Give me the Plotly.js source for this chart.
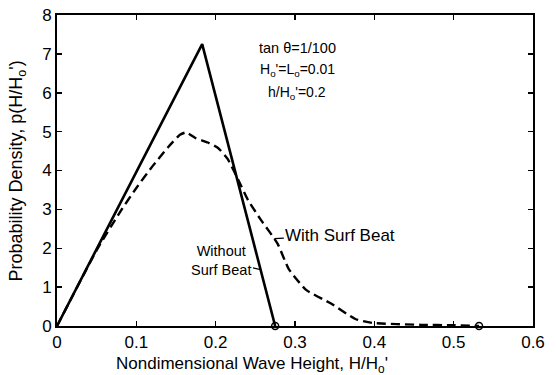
<!DOCTYPE html>
<html>
<head>
<meta charset="utf-8">
<script src="https://cdn.plot.ly/plotly-3.0.1.min.js"></script>
<style>
  html, body { margin: 0; padding: 0; background: #fff; }
  #chart { width: 556px; height: 375px; }
</style>
</head>
<body>
<div id="chart"></div>
<script>
// Wave height distribution without surf beat (triangular)
const noSurfX = [0, 0.183, 0.275];
const noSurfY = [0, 7.25, 0];

// Wave height distribution with surf beat
const surfX = [0, 0.05, 0.08, 0.10, 0.12, 0.14, 0.155, 0.163, 0.175, 0.19, 0.203, 0.215,
               0.228, 0.241, 0.257, 0.278, 0.292, 0.314, 0.346, 0.376, 0.397, 0.459, 0.500, 0.532];
const surfY = [0, 1.95, 2.95, 3.55, 4.10, 4.60, 4.92, 4.98, 4.83, 4.72, 4.58, 4.30,
               3.78, 3.23, 2.73, 2.12, 1.47, 0.93, 0.57, 0.18, 0.08, 0.03, 0.02, 0];

// Open-circle end points of the two distributions
const endX = [0.275, 0.532];
const endY = [0, 0];

const xTicks = [0, 0.1, 0.2, 0.3, 0.4, 0.5, 0.6];
const xTickText = ['0', '0.1', '0.2', '0.3', '0.4', '0.5', '0.6'];
const yTicks = [0, 1, 2, 3, 4, 5, 6, 7, 8];

const fontFam = 'Liberation Sans, Arial, sans-serif';

const traces = [
  {
    x: noSurfX, y: noSurfY, type: 'scatter', mode: 'lines',
    line: { color: '#000', width: 2.6 }, hoverinfo: 'skip'
  },
  {
    x: surfX, y: surfY, type: 'scatter', mode: 'lines',
    line: { color: '#000', width: 2.4, dash: '9px,5px', shape: 'spline', smoothing: 0.5 },
    hoverinfo: 'skip'
  },
  {
    x: endX, y: endY, type: 'scatter', mode: 'markers',
    marker: { symbol: 'circle-open', size: 7, color: '#000', line: { width: 1.5 } },
    hoverinfo: 'skip', cliponaxis: false
  }
];

const layout = {
  width: 556, height: 375,
  margin: { l: 57, r: 23, t: 15, b: 49 },
  paper_bgcolor: '#fff', plot_bgcolor: '#fff',
  showlegend: false,
  font: { family: fontFam, color: '#000', size: 16 },
  xaxis: {
    range: [0, 0.6], tickvals: xTicks, ticktext: xTickText,
    ticks: 'inside', ticklen: 5, tickwidth: 1.5, tickcolor: '#000',
    showline: true, linecolor: '#000', linewidth: 2, mirror: 'ticks',
    showgrid: false, zeroline: false,
    tickfont: { size: 17, family: fontFam }
  },
  yaxis: {
    range: [0, 8], tickvals: yTicks,
    ticks: 'inside', ticklen: 5, tickwidth: 1.5, tickcolor: '#000',
    showline: true, linecolor: '#000', linewidth: 2, mirror: 'ticks',
    showgrid: false, zeroline: false,
    tickfont: { size: 17, family: fontFam }
  },
  annotations: [
    // axis titles
    { xref: 'paper', yref: 'paper', x: 0.41, y: -0.124, xanchor: 'center', yanchor: 'middle',
      showarrow: false, text: "Nondimensional Wave Height, H/H<sub>o</sub>'", font: { size: 17 } },
    { xref: 'paper', yref: 'paper', x: -0.082, y: 0.5, xanchor: 'center', yanchor: 'middle',
      textangle: -90, showarrow: false, text: "Probability Density, p(H/H<sub>o</sub>')", font: { size: 18 } },
    // parameter block
    { xref: 'paper', yref: 'paper', x: 0.505, y: 0.895, xanchor: 'center', yanchor: 'middle', showarrow: false,
      text: 'tan θ=1/100', font: { size: 14.5 } },
    { xref: 'paper', yref: 'paper', x: 0.505, y: 0.824, xanchor: 'center', yanchor: 'middle', showarrow: false,
      text: "H<sub>o</sub>'=L<sub>o</sub>=0.01", font: { size: 14 } },
    { xref: 'paper', yref: 'paper', x: 0.505, y: 0.75, xanchor: 'center', yanchor: 'middle', showarrow: false,
      text: "h/H<sub>o</sub>'=0.2", font: { size: 14 } },
    // curve labels with leader lines
    { x: 0.274, y: 2.25, ax: 66, ay: -3, showarrow: true, arrowhead: 0, arrowwidth: 1.3,
      arrowcolor: '#000', text: 'With Surf Beat', font: { size: 17 } },
    { x: 0.2565, y: 1.45, ax: -39, ay: -9, showarrow: true, arrowhead: 0, arrowwidth: 1.3,
      arrowcolor: '#000', text: 'Without<br>Surf Beat', font: { size: 14.5 }, align: 'center' }
  ]
};

Plotly.newPlot('chart', traces, layout, { staticPlot: true, displayModeBar: false });
</script>
</body>
</html>
